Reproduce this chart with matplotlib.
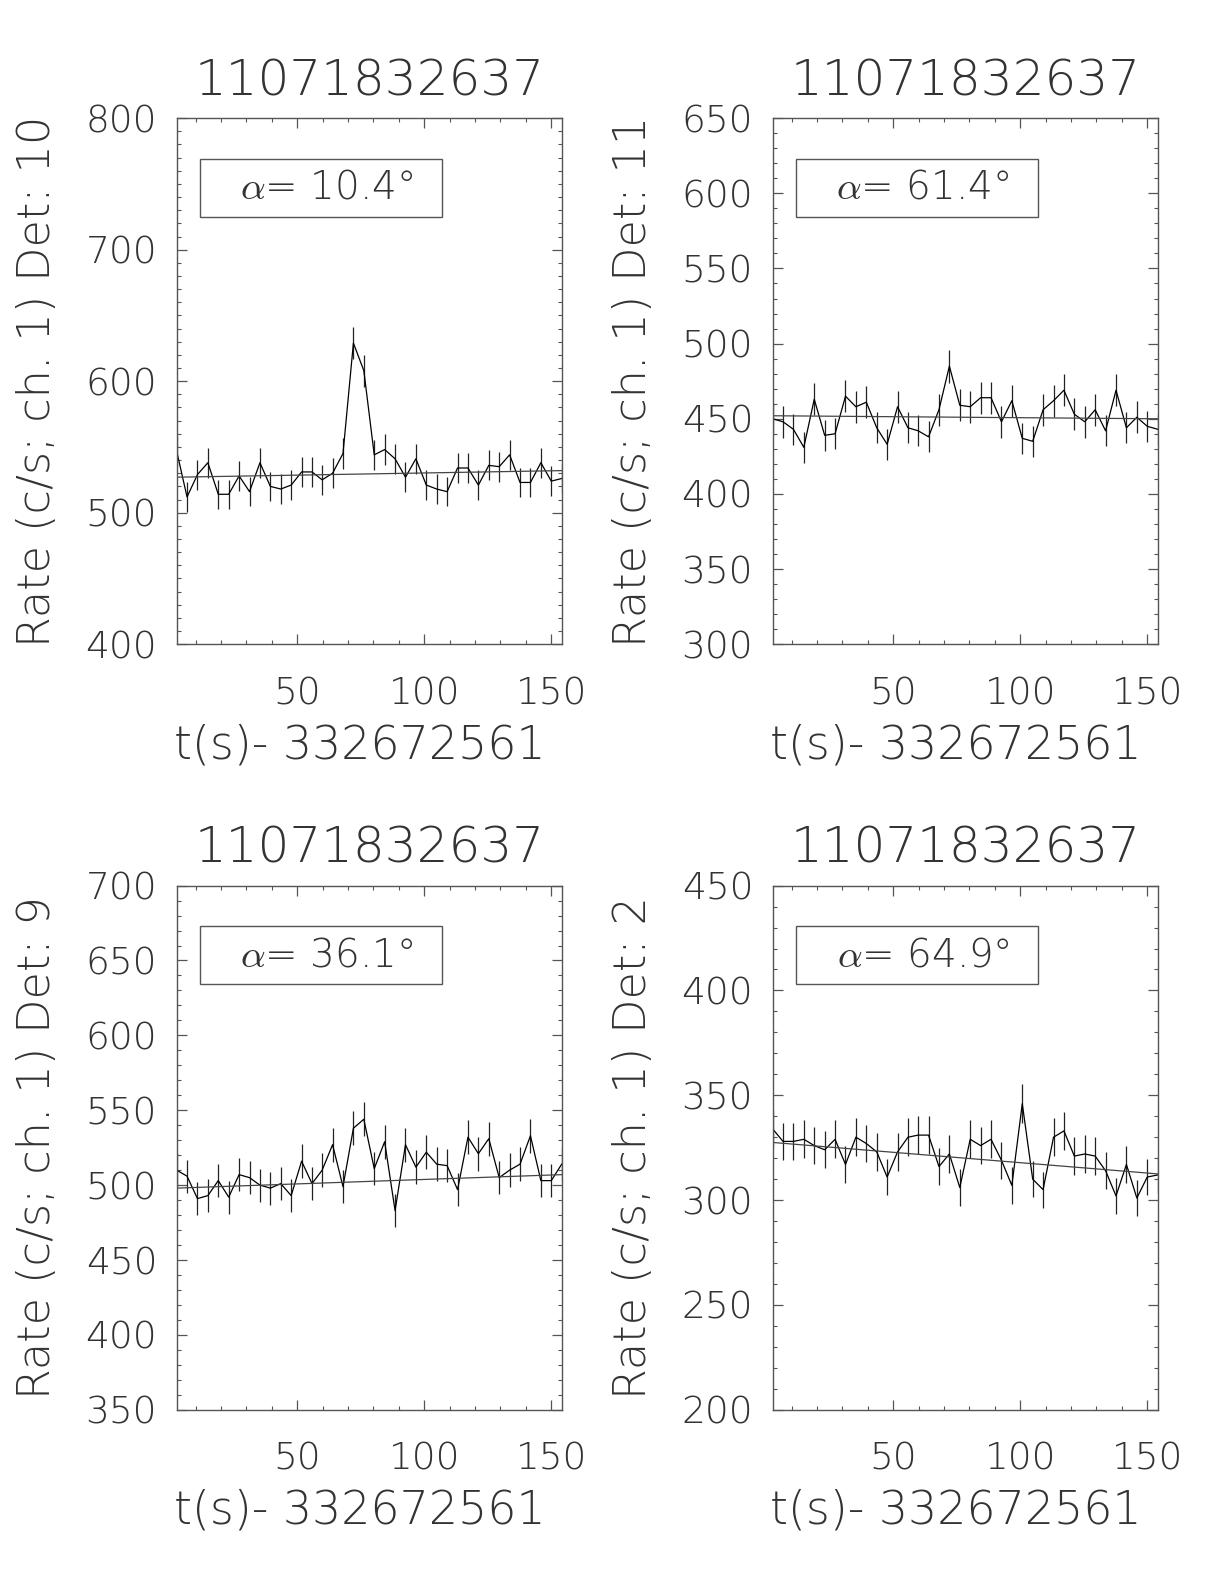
import numpy as np
import matplotlib.pyplot as plt
from matplotlib.patches import Rectangle
from matplotlib.ticker import MultipleLocator, FixedLocator

plt.rcParams['font.family'] = ['DejaVu Sans']
plt.rcParams['font.weight'] = 200
plt.rcParams['axes.labelweight'] = 200
plt.rcParams['mathtext.fontset'] = 'cm'

TXT = '#333333'
FRAME = '#555555'

# time bins (s), 4.096 s wide
t = [2.5, 6.6, 10.7, 14.8, 18.9, 23.0, 27.1, 31.2, 35.3, 39.4, 43.5, 47.6, 51.7,
     55.8, 59.8, 63.9, 68.0, 72.1, 76.2, 80.3, 84.4, 88.5, 92.6, 96.7, 100.8,
     104.9, 109.0, 113.1, 117.2, 121.3, 125.4, 129.5, 133.6, 137.7, 141.8,
     145.9, 150.0, 154.1]

title = "11071832637"
xlabel = "t(s)- 332672561"

# det 10
rate_d10 = [547, 512, 529, 538, 514, 514, 528, 516, 538, 520, 518, 521, 531, 531,
            525, 530, 545, 629, 608, 544, 548, 541, 527, 541, 521, 518, 516, 534,
            534, 521, 536, 535, 544, 523, 523, 538, 524, 526]
err_d10 = [11.6, 11.2, 11.4, 11.5, 11.2, 11.2, 11.4, 11.2, 11.5, 11.3, 11.2, 11.3,
           11.4, 11.4, 11.3, 11.4, 11.5, 12.4, 12.2, 11.5, 11.6, 11.5, 11.3, 11.5,
           11.3, 11.2, 11.2, 11.4, 11.4, 11.3, 11.4, 11.4, 11.5, 11.3, 11.3, 11.5,
           11.3, 11.3]
fit_d10 = [527, 532]

# det 11
rate_d11 = [450, 448, 443, 431, 463, 439, 440, 465, 458, 461, 444, 433, 458, 444,
            442, 438, 456, 485, 459, 458, 464, 464, 448, 462, 437, 435, 456, 462,
            469, 453, 448, 456, 442, 469, 444, 451, 445, 443]
err_d11 = [10.5, 10.5, 10.4, 10.3, 10.6, 10.4, 10.4, 10.7, 10.6, 10.6, 10.4, 10.3,
           10.6, 10.4, 10.4, 10.3, 10.6, 10.9, 10.6, 10.6, 10.6, 10.6, 10.5, 10.6,
           10.3, 10.3, 10.6, 10.6, 10.7, 10.5, 10.5, 10.6, 10.4, 10.7, 10.4, 10.5,
           10.4, 10.4]
fit_d11 = [452, 450]

# det 9
rate_d9 = [510, 506, 491, 493, 503, 492, 507, 505, 500, 498, 501, 493, 516, 501,
           510, 527, 499, 538, 544, 511, 529, 483, 527, 512, 522, 514, 513, 497,
           532, 521, 531, 505, 510, 514, 533, 503, 503, 514]
err_d9 = [11.2, 11.1, 11.0, 11.0, 11.1, 11.0, 11.1, 11.1, 11.1, 11.0, 11.1, 11.0,
          11.2, 11.1, 11.2, 11.3, 11.0, 11.5, 11.5, 11.2, 11.4, 10.9, 11.3, 11.2,
          11.3, 11.2, 11.2, 11.0, 11.4, 11.3, 11.4, 11.1, 11.2, 11.2, 11.4, 11.1,
          11.1, 11.2]
fit_d9 = [498, 507]

# det 2
rate_d2 = [334, 328, 328, 329, 326, 324, 329, 317, 330, 327, 323, 311, 323, 330,
           331, 331, 316, 322, 306, 329, 326, 329, 319, 307, 346, 310, 305, 330,
           333, 321, 322, 321, 314, 302, 317, 301, 311, 312]
err_d2 = [9.0, 8.9, 8.9, 9.0, 8.9, 8.9, 9.0, 8.8, 9.0, 8.9, 8.9, 8.7, 8.9, 9.0,
          9.0, 9.0, 8.8, 8.9, 8.6, 9.0, 8.9, 9.0, 8.8, 8.7, 9.2, 8.7, 8.6, 9.0,
          9.0, 8.9, 8.9, 8.9, 8.8, 8.6, 8.8, 8.6, 8.7, 8.7]
fit_d2 = [327.5, 312.5]

panels = [
    ("10", "10.4", rate_d10, err_d10, fit_d10, (400, 800), 100),
    ("11", "61.4", rate_d11, err_d11, fit_d11, (300, 650), 50),
    ("9", "36.1", rate_d9, err_d9, fit_d9, (350, 700), 50),
    ("2", "64.9", rate_d2, err_d2, fit_d2, (200, 450), 50),
]

positions = [
    [0.1443, 0.5933, 0.3146, 0.3321],
    [0.6312, 0.5933, 0.3146, 0.3321],
    [0.1443, 0.1100, 0.3146, 0.3309],
    [0.6312, 0.1100, 0.3146, 0.3309],
]

fig = plt.figure(figsize=(12.24, 15.84), dpi=100)

for pos, (det, ang, rate, err, fit, yr, ymaj) in zip(positions, panels):
    ax = fig.add_axes(pos)
    ax.errorbar(t, rate, yerr=err, fmt='none', ecolor='#222222', elinewidth=0.9,
                capsize=0)
    ax.plot(t, rate, color='black', lw=0.9)
    ax.plot([t[0], t[-1]], fit, color='#444444', lw=0.9)

    ax.set_xlim(t[0], t[-1])
    ax.set_ylim(*yr)
    ax.xaxis.set_major_locator(FixedLocator([50, 100, 150]))
    ax.xaxis.set_minor_locator(MultipleLocator(10))
    ax.yaxis.set_major_locator(MultipleLocator(ymaj))
    ax.yaxis.set_minor_locator(MultipleLocator(10))
    ax.tick_params(which='both', direction='in', top=True, right=True,
                   color=FRAME, labelcolor=TXT, labelsize=27)
    ax.tick_params(which='major', length=7, width=0.9)
    ax.tick_params(which='minor', length=3.2, width=0.8)
    ax.tick_params(axis='x', pad=23)
    ax.tick_params(axis='y', pad=14)
    for sp in ax.spines.values():
        sp.set_color(FRAME)
        sp.set_linewidth(1.0)

    # edge labels pulled inside the axis range
    yt = ax.yaxis.get_major_ticks()
    yt[0].label1.set_va('bottom')
    yt[-1].label1.set_va('top')

    ax.text(0.5, 1.07, title, transform=ax.transAxes, ha='center', va='center',
            fontsize=36, color=TXT)
    ax.set_ylabel("Rate (c/s; ch. 1) Det: " + det, fontsize=32, color=TXT)
    ax.yaxis.set_label_coords(-0.362, 0.5)
    ax.yaxis.label.set_va('center')
    ax.set_xlabel(xlabel, fontsize=33, color=TXT)
    ax.xaxis.set_label_coords(0.475, -0.192)
    ax.xaxis.label.set_va('center')

    ax.add_patch(Rectangle((0.06, 0.812), 0.63, 0.111, transform=ax.transAxes,
                           fill=False, edgecolor=FRAME, lw=1.0))
    ax.text(0.39, 0.8675, r'$\alpha$= ' + ang + '\u00b0', transform=ax.transAxes,
            ha='center', va='center', fontsize=28, color=TXT)

fig.savefig("out.png", dpi=100)
